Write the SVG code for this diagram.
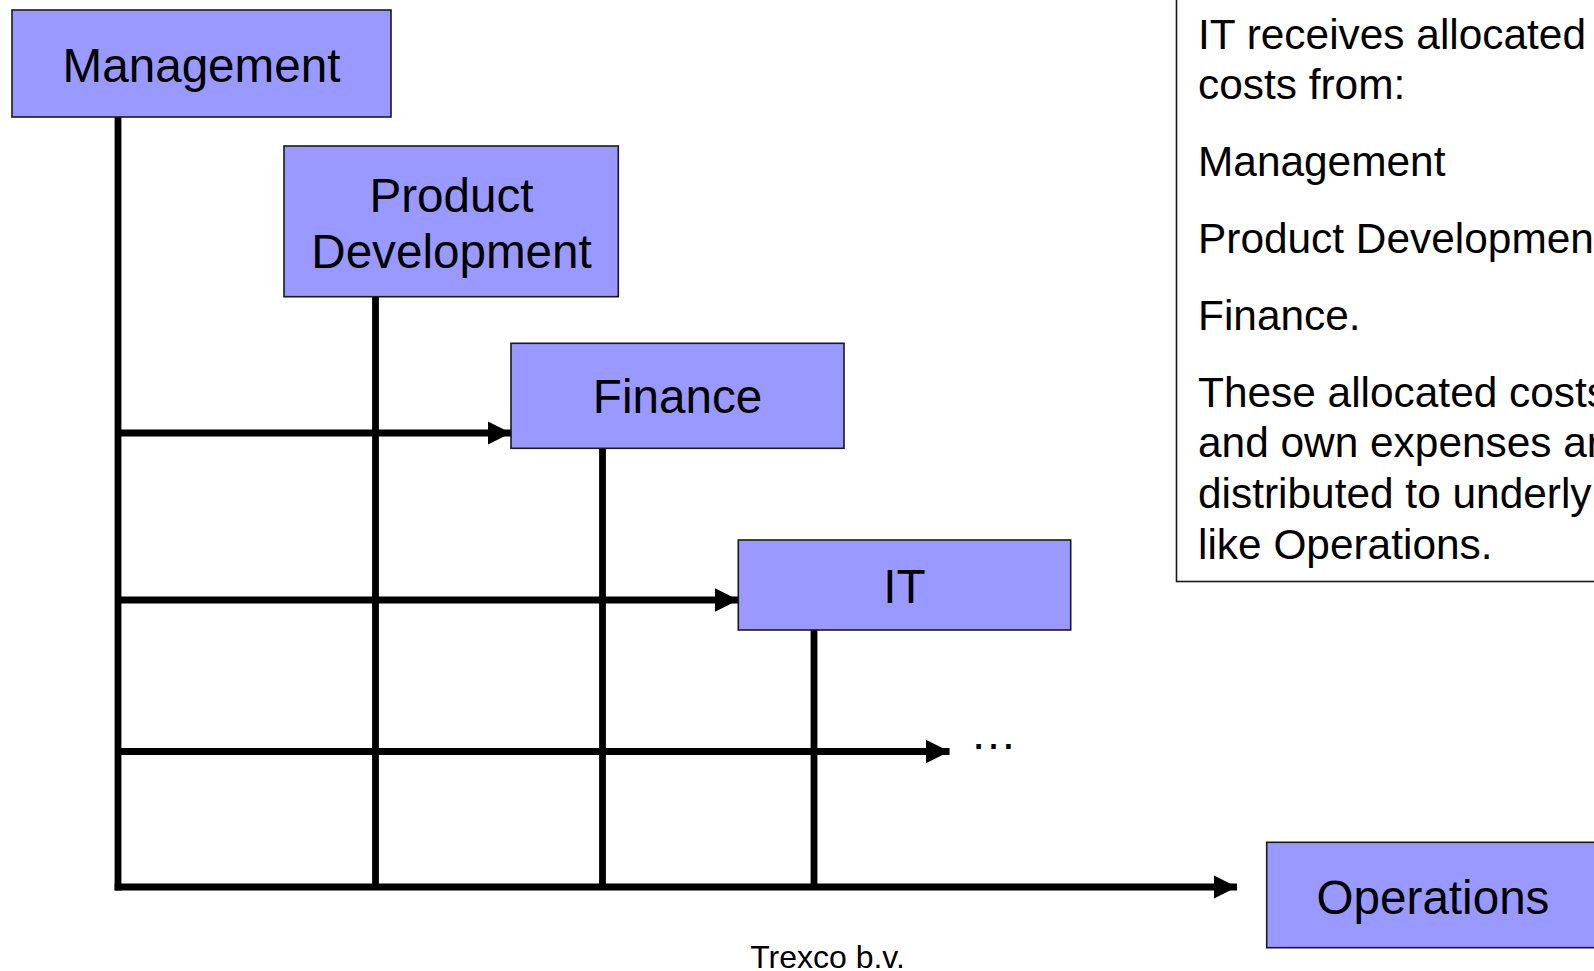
<svg xmlns="http://www.w3.org/2000/svg" width="1594" height="971" viewBox="0 0 1594 971">
  <style>
    .box { fill: #9999FF; stroke: #1a1a1a; stroke-width: 1.6; }
    .lbl { font-family: "Liberation Sans", Arial, sans-serif; font-size: 47.6px; fill: #000; text-anchor: middle; }
    .note { font-family: "Liberation Sans", Arial, sans-serif; font-size: 42.4px; fill: #000; }
    .conn { stroke: #000; stroke-width: 6.8; fill: none; }
    .arr { stroke: #000; stroke-width: 6.8; fill: none; marker-end: url(#ah); }
  </style>
  <defs>
    <marker id="ah" markerUnits="userSpaceOnUse" markerWidth="24" markerHeight="24" refX="23.5" refY="12" orient="auto">
      <path d="M0,0.3 L23.5,12 L0,23.7 Z" fill="#000"/>
    </marker>
  </defs>
  <rect width="1594" height="971" fill="#fff"/>

  <g id="connectors">
    <line class="conn" x1="118" y1="117" x2="118" y2="890.4"/>
    <line class="conn" x1="375.5" y1="297" x2="375.5" y2="887"/>
    <line class="conn" x1="602.5" y1="448.5" x2="602.5" y2="887"/>
    <line class="conn" x1="814" y1="630" x2="814" y2="887"/>
    <line class="arr" x1="118" y1="433" x2="511" y2="433"/>
    <line class="arr" x1="118" y1="600" x2="738.5" y2="600"/>
    <line class="arr" x1="118" y1="751.5" x2="949.5" y2="751.5"/>
    <line class="arr" x1="114.6" y1="887" x2="1237" y2="887"/>
  </g>

  <g id="management">
    <rect class="box" x="12" y="10" width="379" height="107"/>
    <text class="lbl" x="201.5" y="81.7">Management</text>
  </g>

  <g id="product-development">
    <rect class="box" x="284" y="146" width="334.3" height="150.7"/>
    <text class="lbl" x="451.5" y="211.7">Product</text>
    <text class="lbl" x="451.5" y="268.3">Development</text>
  </g>

  <g id="finance">
    <rect class="box" x="511" y="343.3" width="333" height="105"/>
    <text class="lbl" x="677.5" y="413.3">Finance</text>
  </g>

  <g id="it">
    <rect class="box" x="738.3" y="540" width="332.4" height="90"/>
    <text class="lbl" x="904.5" y="602.7">IT</text>
  </g>

  <g id="ellipsis">
    <text font-family="'Liberation Sans', Arial, sans-serif" font-size="47" x="970" y="748.5">…</text>
  </g>

  <g id="operations">
    <rect class="box" x="1266.7" y="842.3" width="340" height="105.4"/>
    <text class="lbl" x="1433" y="914.3">Operations</text>
  </g>

  <g id="note">
    <rect x="1176.5" y="-10" width="440" height="591.5" fill="#fff" stroke="#1a1a1a" stroke-width="1.6"/>
    <text class="note" x="1198" y="48.5">IT receives allocated</text>
    <text class="note" x="1198" y="99">costs from:</text>
    <text class="note" x="1198" y="175.5">Management</text>
    <text class="note" x="1198" y="252.5">Product Development</text>
    <text class="note" x="1198" y="330">Finance.</text>
    <text class="note" x="1198" y="406.5">These allocated costs</text>
    <text class="note" x="1198" y="457">and own expenses are</text>
    <text class="note" x="1198" y="508">distributed to underlying</text>
    <text class="note" x="1198" y="558.5">like Operations.</text>
  </g>

  <g id="footer">
    <text font-family="'Liberation Sans', Arial, sans-serif" font-size="32" text-anchor="middle" x="827.5" y="968.3">Trexco b.v.</text>
  </g>
</svg>
